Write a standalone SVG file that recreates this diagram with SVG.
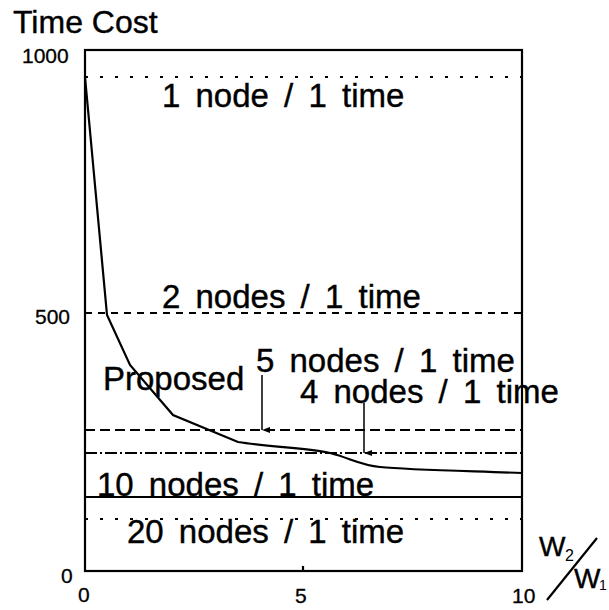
<svg xmlns="http://www.w3.org/2000/svg" width="609" height="610" viewBox="0 0 609 610">
<style>
text{font-family:"Liberation Sans",Arial,sans-serif;fill:#000}
.lbl{font-size:33px;word-spacing:6px;stroke:#000;stroke-width:0.4}
.tick{font-size:21px;stroke:#000;stroke-width:0.3}
.ln{fill:none;stroke:#000;stroke-width:2.2}
</style>
<defs>
<marker id="ah" viewBox="0 0 6 8" refX="3" refY="8" markerWidth="6" markerHeight="8" markerUnits="userSpaceOnUse" orient="auto-start-reverse">
<path d="M0,0 L6,0 L3,8 Z" fill="#000"/>
</marker>
</defs>
<rect width="609" height="610" fill="#fff"/>
<g id="axes">
<rect x="85" y="50" width="437" height="521" class="ln"/>
<line x1="303" y1="566" x2="303" y2="571" class="ln" stroke-width="1.5"/>
<text x="13" y="33" style="font-size:32px;stroke:#000;stroke-width:0.4">Time Cost</text>
<text x="22" y="63" class="tick">1000</text>
<text x="35" y="324" class="tick">500</text>
<text x="61" y="583" class="tick">0</text>
<text x="78" y="602" class="tick">0</text>
<text x="295" y="603" class="tick">5</text>
<text x="512" y="603" class="tick">10</text>
<text x="539" y="556" style="font-size:28px;stroke:#000;stroke-width:0.4">W</text>
<text x="565" y="561" style="font-size:16px">2</text>
<line x1="547" y1="600" x2="597" y2="538" class="ln"/>
<text x="574" y="588" style="font-size:28px;stroke:#000;stroke-width:0.4">W</text>
<text x="599" y="590" style="font-size:14px">1</text>
</g>
<g id="lines">
<line x1="85" y1="77" x2="522" y2="77" class="ln" stroke-width="2.6" stroke-dasharray="3 12"/>
<line x1="85" y1="313" x2="522" y2="313" class="ln" stroke-dasharray="7 6"/>
<line x1="85" y1="430" x2="522" y2="430" class="ln" stroke-dasharray="10 5"/>
<line x1="85" y1="453" x2="522" y2="453" class="ln" stroke-dasharray="12 3 2 3"/>
<line x1="85" y1="497" x2="522" y2="497" class="ln"/>
<line x1="85" y1="519" x2="522" y2="519" class="ln" stroke-width="2.6" stroke-dasharray="3 12"/>
</g>
<g id="curve">
<path class="ln" d="M85,77 L107,315 L130,365 L173,415 L238,442 C270,447 310,448 330,453 C350,458 360,465 380,467 C410,470 470,471 522,473"/>
</g>
<g id="connectors">
<line x1="262" y1="375" x2="262" y2="430" stroke="#000" stroke-width="1.5" marker-end="url(#ah)"/>
<line x1="364" y1="403" x2="364" y2="453" stroke="#000" stroke-width="1.5" marker-end="url(#ah)"/>
</g>
<g id="labels">
<text class="lbl" x="162" y="107">1 node / 1 time</text>
<text class="lbl" x="162" y="308">2 nodes / 1 time</text>
<text class="lbl" x="103" y="390" style="word-spacing:0">Proposed</text>
<text class="lbl" x="256" y="372">5 nodes / 1 time</text>
<text class="lbl" x="300" y="403">4 nodes / 1 time</text>
<text class="lbl" x="97" y="496">10 nodes / 1 time</text>
<text class="lbl" x="127" y="543">20 nodes / 1 time</text>
</g>
</svg>
